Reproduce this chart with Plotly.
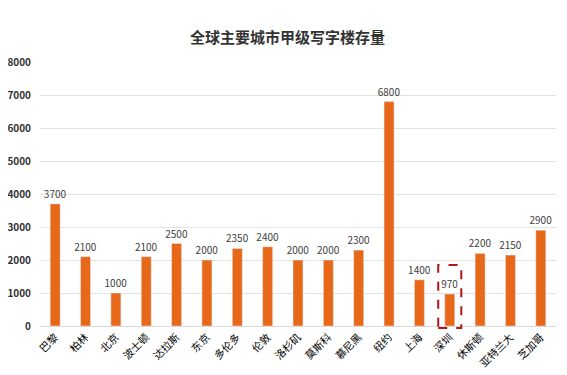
import plotly.graph_objects as go

cities = ["巴黎", "柏林", "北京", "波士顿", "达拉斯", "东京", "多伦多", "伦敦", "洛杉矶",
          "莫斯科", "慕尼黑", "纽约", "上海", "深圳", "休斯顿", "亚特兰大", "芝加哥"]
stock = [3700, 2100, 1000, 2100, 2500, 2000, 2350, 2400, 2000, 2000, 2300, 6800, 1400, 970, 2200, 2150, 2900]
y_ticks = [0, 1000, 2000, 3000, 4000, 5000, 6000, 7000, 8000]
y_max = 8000
highlight_city = "深圳"
highlight_top = 1850

fig = go.Figure()
fig.add_trace(go.Bar(
    x=list(range(len(cities))), y=stock,
    marker=dict(color="#E8681A"),
    width=0.33,
    text=[str(v) for v in stock], textposition="outside",
    constraintext="none",
    textfont=dict(size=10, color="#404040", family="Noto Sans CJK SC"),
    cliponaxis=False,
))

hi = cities.index(highlight_city)
fig.add_shape(type="rect", xref="x", yref="paper",
              x0=hi - 0.38, x1=hi + 0.38, y0=-0.008, y1=highlight_top / y_max,
              line=dict(color="#B01818", width=2, dash="dash"))

# page body has an 8px default margin, so the figure is sized to fit inside 567x375
fig.update_layout(
    width=559, height=367,
    paper_bgcolor="white", plot_bgcolor="white",
    margin=dict(l=32, r=11, t=54, b=49, autoexpand=False),
    title=dict(text="<b>全球主要城市甲级写字楼存量</b>", x=0.5, xanchor="center", y=0.918, yanchor="middle",
               font=dict(size=15, color="#333333", family="Noto Sans CJK SC")),
    showlegend=False,
)
fig.update_xaxes(
    tickmode="array", tickvals=list(range(len(cities))), ticktext=cities,
    tickangle=-45, tickfont=dict(size=10.5, color="#000000", family="Noto Sans CJK SC"),
    range=[-0.5, len(cities) - 0.5], automargin=False,
    showline=True, linecolor="#D9D9D9", linewidth=1, showgrid=False,
)
fig.update_yaxes(
    range=[0, y_max], tickvals=y_ticks, ticktext=["<b>%d</b>" % v for v in y_ticks],
    automargin=False,
    tickfont=dict(size=10, color="#333333", family="Noto Sans CJK SC"),
    showgrid=True, gridcolor="#E3E3E3", gridwidth=1, zeroline=False,
    ticks="outside", ticklen=6, tickcolor="white",
)

fig.write_html("out.html")
